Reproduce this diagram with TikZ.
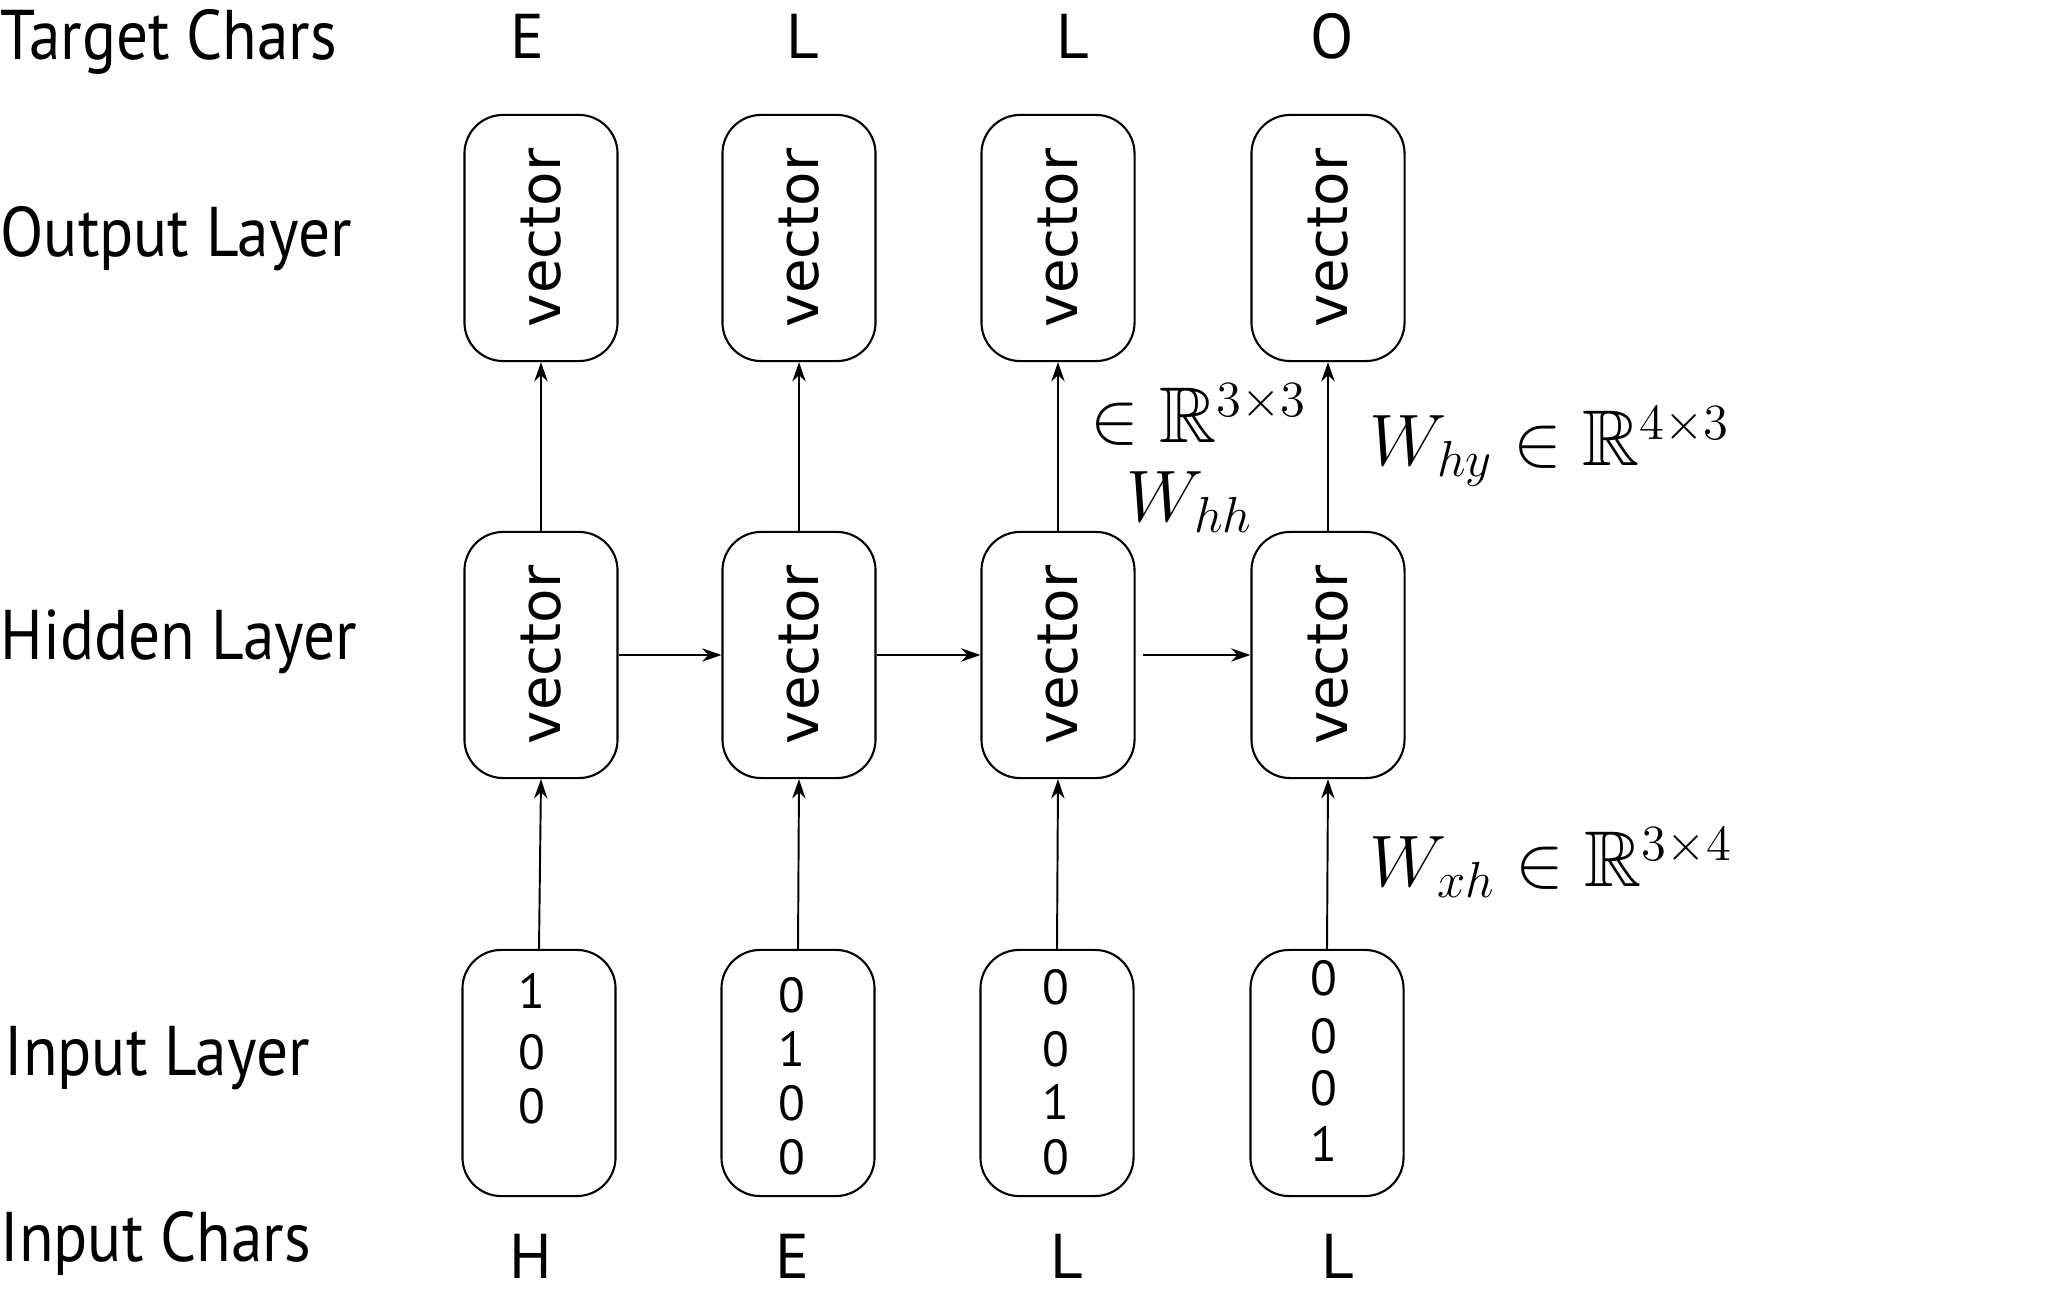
\documentclass[tikz,border=0pt]{standalone}
\usepackage{amssymb}
\usepackage{fontspec}
\setmainfont{PT Sans}
\newfontfamily\vecfont{DejaVu Sans}
\usetikzlibrary{arrows.meta}
\newcommand{\narrowtxt}[1]{\scalebox{0.9}[1]{#1}}
\begin{document}
\begin{tikzpicture}[x=0.01cm,y=-0.01cm,
  box/.style={draw, line width=0.6pt, rounded corners=11pt, minimum width=1.53cm, minimum height=2.46cm, inner sep=0pt, font=\vecfont\fontsize{16}{16}\selectfont},
  lbl/.style={anchor=west, inner sep=0pt, font=\fontsize{20}{24}\selectfont},
  chr/.style={inner sep=0pt, font=\fontsize{18}{20}\selectfont},
  num/.style={inner sep=0pt, font=\fontsize{14}{16}\selectfont},
  mth/.style={inner sep=0pt, anchor=base west, font=\fontsize{22.5}{27}\selectfont},
  arr/.style={-{Stealth[length=5.5pt,width=3.8pt]}, line width=0.55pt}]
\useasboundingbox (0,0) rectangle (2045,1292);
% left labels
\node[lbl] (lt) at (0,42) {\narrowtxt{Target Chars}};
\node[lbl] (lo) at (0,239) {\narrowtxt{Output Layer}};
\node[lbl] (lh) at (0,642) {\narrowtxt{Hidden Layer}};
\node[lbl] (li) at (4,1058) {\narrowtxt{Input Layer}};
\node[lbl] (lc) at (0,1243) {\narrowtxt{Input Chars}};
% target chars
\node[chr] (t1) at (527,36) {E};
\node[chr] (t2) at (803,36) {L};
\node[chr] (t3) at (1073,36) {L};
\node[chr] (t4) at (1332,36) {O};
% input chars
\node[chr] (c1) at (531,1256) {H};
\node[chr] (c2) at (792,1256) {E};
\node[chr] (c3) at (1067,1256) {L};
\node[chr] (c4) at (1338,1256) {L};
% output boxes
\node[box] (o1) at (541,238) {\rotatebox{90}{vector}};
\node[box] (o2) at (799,238) {\rotatebox{90}{vector}};
\node[box] (o3) at (1058,238) {\rotatebox{90}{vector}};
\node[box] (o4) at (1328,238) {\rotatebox{90}{vector}};
% hidden boxes
\node[box] (h1) at (541,655) {\rotatebox{90}{vector}};
\node[box] (h2) at (799,655) {\rotatebox{90}{vector}};
\node[box] (h3) at (1058,655) {\rotatebox{90}{vector}};
\node[box] (h4) at (1328,655) {\rotatebox{90}{vector}};
% input boxes
\node[box] (i1) at (539,1073) {};
\node[box] (i2) at (798,1073) {};
\node[box] (i3) at (1057,1073) {};
\node[box] (i4) at (1327,1073) {};
% input numbers
\node[num] (n11) at (532,991) {1};
\node[num] (n12) at (532,1052) {0};
\node[num] (n13) at (532,1106) {0};
\node[num] (n21) at (792,995) {0};
\node[num] (n22) at (792,1049) {1};
\node[num] (n23) at (792,1103) {0};
\node[num] (n24) at (792,1157) {0};
\node[num] (n31) at (1056,987) {0};
\node[num] (n32) at (1056,1049) {0};
\node[num] (n33) at (1056,1102) {1};
\node[num] (n34) at (1056,1157) {0};
\node[num] (n41) at (1324,978) {0};
\node[num] (n42) at (1324,1036) {0};
\node[num] (n43) at (1324,1088) {0};
\node[num] (n44) at (1324,1144) {1};
% arrows
\foreach \k in {1,2,3,4} {
  \draw[arr] (h\k.north) -- (o\k.south);
  \draw[arr] (i\k.north) -- (h\k.south);
}
\draw[arr] (h1.east) -- (h2.west);
\draw[arr] (h2.east) -- (h3.west);
\draw[arr] ([xshift=2pt]h3.east) -- (h4.west);
% math labels
\node[mth] (win) at (1090,443) {$\in\mathbb{R}^{3\times3}$};
\node[mth] (whh) at (1126,522) {$W_{hh}$};
\node[mth] (why) at (1369,466) {$W_{hy}\in\mathbb{R}^{4\times3}$};
\node[mth] (wxh) at (1369,887) {$W_{xh}\in\mathbb{R}^{3\times4}$};
\end{tikzpicture}
\end{document}
